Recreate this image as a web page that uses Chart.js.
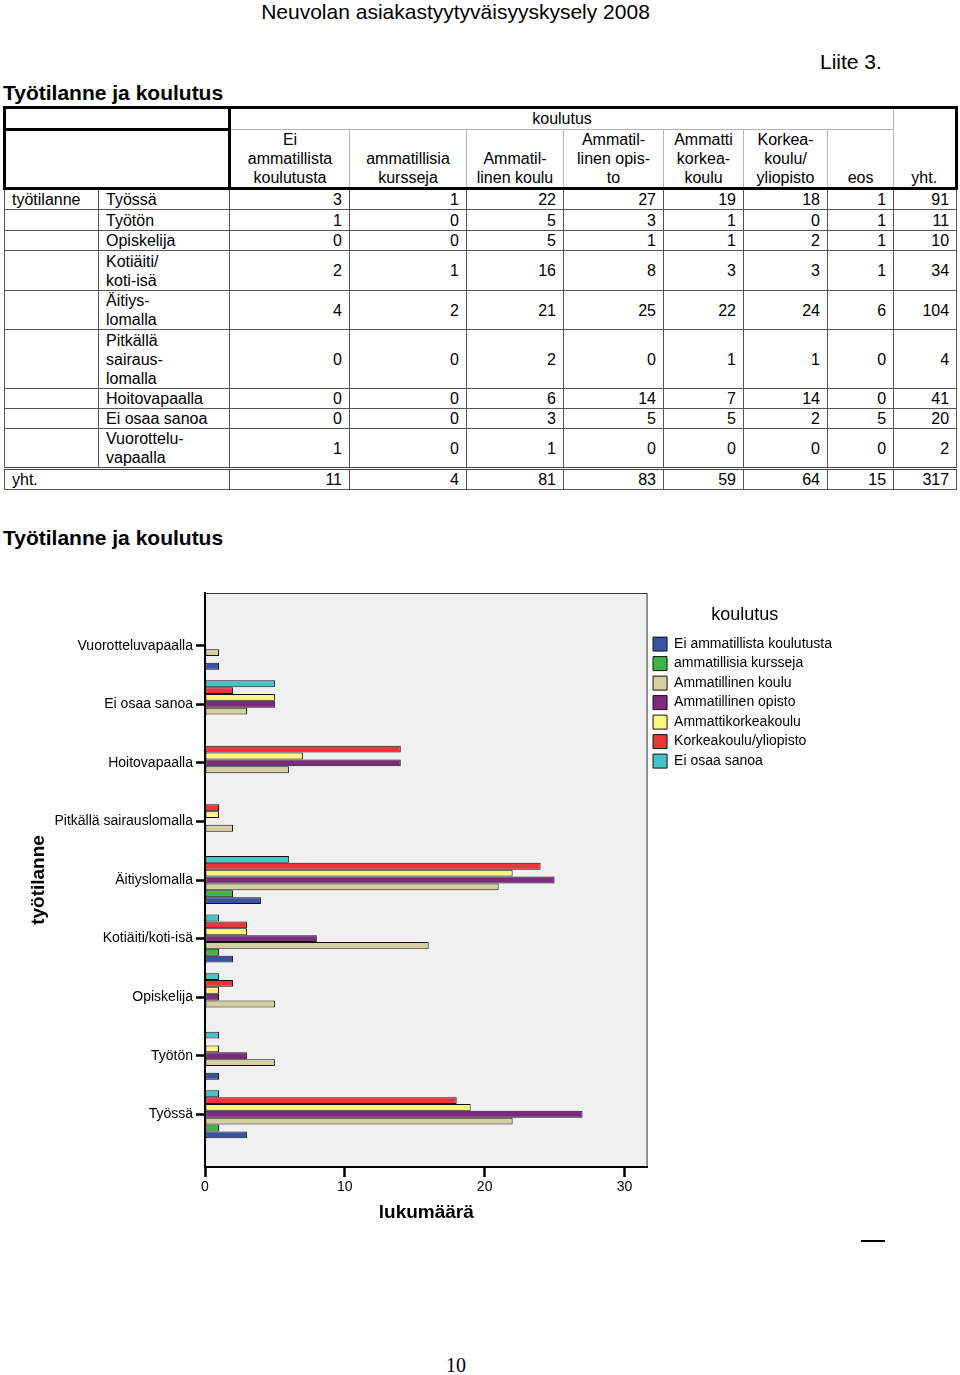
<!DOCTYPE html>
<html>
<head>
<meta charset="utf-8">
<style>
  body { margin: 0; background: #fff; font-family: "Liberation Sans", Arial, sans-serif; color: #000; }
  .page { position: relative; width: 960px; height: 1375px; }
  .t { position: absolute; white-space: nowrap; }
  #taulu { position: absolute; left: 3px; top: 106px; width: 952px; border-collapse: collapse; table-layout: fixed; font-size: 16px; line-height: 19px; }
  #taulu td { border: 1px solid #555; padding: 0 7px; vertical-align: middle; text-align: right; }
  #taulu td.lbl { text-align: left; }
  #taulu tr.h td { border-color: #b5b5b5; text-align: center; vertical-align: bottom; padding: 0 2px; }
  #taulu tr.h td.thick { border: 3px solid #000; }
  #taulu tr.h1 td.kou { border-top: 3px solid #000; border-left: 3px solid #000; text-align: center; vertical-align: top; }
  #taulu tr.h td.yht { border-top: 3px solid #000; border-right: 3px solid #000; border-bottom: 3px solid #000; text-align: right; padding-right: 18px; }
  #taulu tr.h2 td { border-bottom: 3px solid #000; }
  #taulu tr.sum td { border-top: 3px double #444; }
</style>
</head>
<body>
<div class="page">
  <div class="t" style="left:0;width:911px;top:0;font-size:21px;line-height:24px;text-align:center;">Neuvolan asiakastyytyväisyyskysely 2008</div>
  <div class="t" style="left:820px;top:50px;font-size:21px;line-height:24px;">Liite 3.</div>
  <div class="t" style="left:3px;top:81px;font-size:21px;line-height:24px;font-weight:bold;">Työtilanne ja koulutus</div>
  <table id="taulu"></table>
  <div class="t" style="left:3px;top:526px;font-size:21px;line-height:24px;font-weight:bold;">Työtilanne ja koulutus</div>
  <div style="position:absolute;left:0;top:560px;width:880px;height:680px;">
    <canvas id="kuvio"></canvas>
  </div>
  <div style="position:absolute;left:861px;top:1240px;width:24px;height:2px;background:#000;"></div>
  <div class="t" style="left:0;width:912px;top:1353px;font-family:'Liberation Serif','DejaVu Serif',serif;font-size:20px;line-height:24px;text-align:center;">10</div>
</div>
<script src="https://cdn.jsdelivr.net/npm/chart.js"></script>
<script>
// työtilanne (rows), koulutus (series)
const tilanteet = ['Työssä', 'Työtön', 'Opiskelija', 'Kotiäiti/koti-isä', 'Äitiyslomalla',
  'Pitkällä sairauslomalla', 'Hoitovapaalla', 'Ei osaa sanoa', 'Vuorotteluvapaalla'];
const taulunRivit = ['Työssä', 'Työtön', 'Opiskelija', 'Kotiäiti/<br>koti-isä', 'Äitiys-<br>lomalla',
  'Pitkällä<br>sairaus-<br>lomalla', 'Hoitovapaalla', 'Ei osaa sanoa', 'Vuorottelu-<br>vapaalla'];
const rivinKorkeus = [20, 21, 20, 40, 39, 59, 20, 20, 40];

const koulutukset = ['Ei ammatillista koulutusta', 'ammatillisia kursseja', 'Ammatillinen koulu',
  'Ammatillinen opisto', 'Ammattikorkeakoulu', 'Korkeakoulu/yliopisto', 'Ei osaa sanoa'];
const taulunSarakkeet = ['Ei<br>ammatillista<br>koulutusta', 'ammatillisia<br>kursseja', 'Ammatil-<br>linen koulu',
  'Ammatil-<br>linen opis-<br>to', 'Ammatti<br>korkea-<br>koulu', 'Korkea-<br>koulu/<br>yliopisto', 'eos'];

const eiAmmatillista  = [3, 1, 0, 2, 4, 0, 0, 0, 1];
const kursseja        = [1, 0, 0, 1, 2, 0, 0, 0, 0];
const ammKoulu        = [22, 5, 5, 16, 21, 2, 6, 3, 1];
const ammOpisto       = [27, 3, 1, 8, 25, 0, 14, 5, 0];
const amk             = [19, 1, 1, 3, 22, 1, 7, 5, 0];
const yliopisto       = [18, 0, 2, 3, 24, 1, 14, 2, 0];
const eos             = [1, 1, 1, 1, 6, 0, 0, 5, 0];
const rivitYht        = [91, 11, 10, 34, 104, 4, 41, 20, 2];
const sarakkeetYht    = [11, 4, 81, 83, 59, 64, 15, 317];

const xTicks = [0, 10, 20, 30];

const sarjat = [eiAmmatillista, kursseja, ammKoulu, ammOpisto, amk, yliopisto, eos];
const varit = ['#3b52a3', '#3db54b', '#d6d09f', '#7d2a7e', '#fbf77c', '#e8363c', '#46c2c9'];

// taulukko
const taulu = document.getElementById('taulu');
let html = '<colgroup>';
[94, 131, 120, 117, 97, 100, 80, 84, 66, 63].forEach(w => { html += '<col style="width:' + w + 'px">'; });
html += '</colgroup>';
html += '<tr class="h h1" style="height:22px"><td class="thick" colspan="2"></td><td class="kou" colspan="7">koulutus</td><td class="yht" rowspan="2">yht.</td></tr>';
html += '<tr class="h h2" style="height:59px"><td class="thick" colspan="2"></td>';
taulunSarakkeet.forEach(s => { html += '<td>' + s + '</td>'; });
html += '</tr>';
taulunRivit.forEach((r, i) => {
  html += '<tr style="height:' + rivinKorkeus[i] + 'px"><td class="lbl">' + (i === 0 ? 'työtilanne' : '') + '</td><td class="lbl">' + r + '</td>';
  sarjat.forEach(s => { html += '<td>' + s[i] + '</td>'; });
  html += '<td>' + rivitYht[i] + '</td></tr>';
});
html += '<tr class="sum" style="height:21px"><td class="lbl" colspan="2">yht.</td>';
sarakkeetYht.forEach(v => { html += '<td>' + v + '</td>'; });
html += '</tr>';
taulu.innerHTML = html;

// kuvio
const plotBox = {
  id: 'plotBox',
  beforeDraw(chart) {
    const { ctx, chartArea: a } = chart;
    ctx.save();
    ctx.fillStyle = '#f0f0f0';
    ctx.fillRect(a.left, a.top, a.width, a.height);
    ctx.strokeStyle = '#333';
    ctx.lineWidth = 1;
    ctx.strokeRect(a.left + 0.5, a.top + 0.5, a.width - 1, a.height - 1);
    ctx.restore();
  }
};

const datasets = koulutukset.map((nimi, k) => ({
  label: nimi,
  data: sarjat[k].map((v, i) => ({ x: v, y: i })),
  backgroundColor: varit[k],
  borderColor: '#111',
  borderWidth: 1,
  borderSkipped: false
})).reverse();

const fontti = 'Liberation Sans, Arial, sans-serif';

new Chart(document.getElementById('kuvio'), {
  type: 'bar',
  data: { datasets: datasets },
  plugins: [plotBox],
  options: {
    indexAxis: 'y',
    responsive: true,
    maintainAspectRatio: false,
    animation: false,
    categoryPercentage: 0.82,
    barPercentage: 1.0,
    layout: { padding: { left: 23, top: 33, bottom: 12, right: 38 } },
    plugins: {
      tooltip: { enabled: false },
      legend: {
        position: 'right',
        align: 'start',
        reverse: true,
        title: { display: true, text: 'koulutus', color: '#000', font: { family: fontti, size: 18 }, padding: { top: 13, bottom: 4 } },
        labels: {
          color: '#000',
          boxWidth: 14,
          boxHeight: 14,
          padding: 5.5,
          font: { family: fontti, size: 14, lineHeight: 1 }
        }
      }
    },
    scales: {
      x: {
        type: 'linear',
        min: 0,
        max: 31.65,
        afterFit(scale) { scale.height = 61; },
        afterBuildTicks(scale) { scale.ticks = xTicks.map(v => ({ value: v })); },
        ticks: { color: '#000', padding: 2, font: { family: fontti, size: 14 } },
        grid: { display: true, drawOnChartArea: false, drawTicks: true, tickLength: 10, tickWidth: 2.5, tickColor: '#000' },
        border: { display: true, color: '#000', width: 2 },
        title: { display: true, text: 'lukumäärä', color: '#000', font: { family: fontti, size: 19, weight: 'bold' } }
      },
      y: {
        type: 'linear',
        min: -0.9,
        max: 8.9,
        offset: false,
        afterFit(scale) { scale.width = 182; },
        ticks: {
          stepSize: 1,
          includeBounds: false,
          color: '#000',
          padding: 3,
          font: { family: fontti, size: 14 },
          callback: v => tilanteet[v]
        },
        grid: { display: true, offset: false, drawOnChartArea: false, drawTicks: true, tickLength: 9, tickWidth: 2.5, tickColor: '#000' },
        border: { display: true, color: '#000', width: 2 },
        title: { display: true, text: 'työtilanne', color: '#000', font: { family: fontti, size: 19, weight: 'bold' } }
      }
    }
  }
});
</script>
</body>
</html>
